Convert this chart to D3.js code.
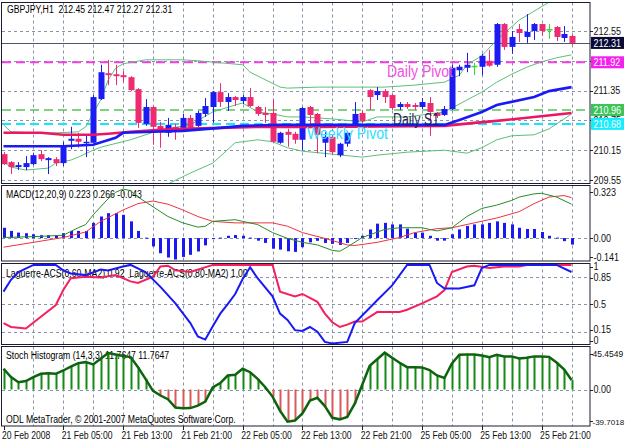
<!DOCTYPE html>
<html><head><meta charset="utf-8">
<script src="https://cdn.jsdelivr.net/npm/d3@7"></script>
<style>body{margin:0;background:#fff}svg{display:block}text{font-family:"Liberation Sans",Arial,sans-serif}</style>
</head><body><svg id="c" width="625" height="443"></svg>
<script>
// ---------- DATA ----------
const open =[210.07,209.91,209.81,209.81,209.87,210.07,209.95,209.97,209.89,210.34,210.38,210.30,210.30,211.18,211.70,211.68,211.66,211.62,211.38,210.68,211.02,210.64,210.50,210.62,210.56,210.80,210.64,210.88,211.02,211.32,211.12,211.22,211.14,211.22,211.02,210.90,210.90,210.30,210.52,210.48,210.36,211.02,210.88,210.30,210.42,210.05,210.28,210.62,210.90,211.36,211.26,211.34,211.26,211.02,211.08,211.06,211.02,211.10,210.90,210.86,210.98,211.76,211.81,211.85,211.83,211.95,211.87,212.69,212.23,212.59,212.43,212.55,212.69,212.59,212.63,212.41,212.45];
const high =[210.11,209.93,209.91,210.03,210.09,210.15,210.01,210.01,210.32,210.62,210.50,210.46,211.26,211.87,211.97,211.87,211.74,211.64,211.40,211.18,211.04,210.72,210.80,210.68,210.88,210.86,210.94,211.20,211.34,211.50,211.30,211.24,211.26,211.40,211.04,211.02,211.18,210.52,210.58,210.52,211.02,211.04,210.90,210.52,210.46,210.30,210.52,211.12,210.96,211.38,211.42,211.38,211.28,211.12,211.12,211.10,211.20,211.22,210.92,211.04,211.87,211.87,212.11,211.91,212.09,212.17,212.71,212.71,212.55,212.69,212.89,212.71,212.69,212.69,212.65,212.65,212.47];
const low  =[209.85,209.67,209.75,209.75,209.85,209.93,209.67,209.83,209.83,210.17,210.20,210.01,210.30,211.16,211.46,211.46,211.52,211.34,210.60,210.64,210.26,210.20,210.42,210.36,210.52,210.56,210.62,210.82,210.70,211.02,210.94,211.04,211.08,211.02,210.84,210.70,210.30,210.28,210.22,210.28,210.15,210.62,210.09,210.01,210.07,210.01,210.22,210.60,210.70,210.96,211.16,211.10,210.96,210.96,210.98,210.96,210.98,210.44,210.80,210.84,210.96,211.64,211.72,211.66,211.66,211.83,211.83,212.17,212.09,212.33,212.31,212.37,212.45,212.39,212.35,212.33,212.27];
const close=[209.87,209.81,209.85,209.89,210.05,209.97,209.99,209.89,210.22,210.38,210.32,210.32,211.22,211.72,211.66,211.64,211.62,211.36,210.70,211.02,210.62,210.54,210.66,210.52,210.80,210.60,210.90,211.04,211.32,211.12,211.22,211.16,211.22,211.04,210.88,210.86,210.32,210.50,210.46,210.36,211.00,210.86,210.46,210.42,210.11,210.28,210.50,210.88,210.74,211.22,211.34,211.22,211.00,211.08,211.02,211.02,211.12,210.92,210.84,210.98,211.81,211.83,211.87,211.85,212.05,211.85,212.69,212.23,212.43,212.51,212.53,212.69,212.55,212.59,212.43,212.49,212.31];

const xLabels=["20 Feb 2008","21 Feb 05:00","21 Feb 13:00","21 Feb 21:00","22 Feb 05:00","22 Feb 13:00","22 Feb 21:00","25 Feb 05:00","25 Feb 13:00","25 Feb 21:00"];
const xLabelIdx=[0,8,16,24,32,40,48,56,64,72];
const priceTicks=[212.55,211.95,211.35,210.75,210.15,209.55];
const priceTickLabels=["212.55","","211.35","210.75","210.15","209.55"];
const lastPrice=212.31;
const levelNames=["Daily Pivot","Daily S1","Weekly Pivot"];
const levelValues=[211.92,210.96,210.68];

const maBlueIdx=[0,8,12,15,16,20,24,29,32,37,42,59,61,64,66,71,73,76];
const maBlueVal=[210.23,210.23,210.26,210.40,210.50,210.52,210.54,210.60,210.64,210.66,210.66,210.66,210.76,210.92,211.06,211.22,211.34,211.42];
const maPinkIdx=[0,5,8,12,14,17,21,24,29,34,42,59,63,66,71,76];
const maPinkVal=[210.50,210.50,210.46,210.46,210.48,210.52,210.56,210.58,210.60,210.62,210.62,210.64,210.70,210.74,210.82,210.90];
const bbUpIdx=[0,1,4,7,10,11,12,13,14,15,16,19,24,26,32,33,37,38,42,51,55,59,61,62,64,66,69,73,76];
const bbUpVal=[210.66,210.52,210.50,210.50,210.52,210.62,210.90,211.16,211.56,211.80,211.89,211.97,211.97,211.95,211.87,211.72,211.42,211.40,211.42,211.42,211.46,211.52,211.66,211.87,212.05,212.37,212.77,213.13,213.42];
const bbMidIdx=[0,1,3,6,7,9,10,12,13,17,21,25,28,31,32,34,36,38,40,44,48,50,54,59,60,62,64,66,68,70,72,74,76];
const bbMidVal=[209.91,209.81,209.75,209.79,209.89,209.95,210.01,210.15,210.21,210.36,210.56,210.66,210.92,211.06,211.10,210.92,210.88,210.82,210.82,210.78,210.72,210.82,210.82,210.92,211.00,211.16,211.32,211.52,211.68,211.82,211.93,212.01,212.07];
const bbLowIdx=[0,7,12,14,17,20,22,25,28,31,32,34,36,38,40,44,48,50,54,59,62,64,66,68,71,73,74,76];
const bbLowVal=[209.17,209.29,209.41,208.85,208.79,209.05,209.47,209.69,209.89,210.30,210.32,210.36,210.32,210.20,210.13,210.07,210.01,210.05,210.11,210.15,210.09,210.20,210.36,210.44,210.46,210.58,210.68,210.88];

const macdHist=[0.068,0.047,0.036,0.032,0.025,0.019,0.019,0.019,0.032,0.047,
 0.047,0.047,0.100,0.142,0.164,0.164,0.153,0.110,0.047,0.003,
 -0.055,-0.100,-0.128,-0.141,-0.124,-0.110,-0.088,-0.048,-0.006,0.003,
 0.015,0.020,0.015,0.003,-0.017,-0.032,-0.070,-0.076,-0.087,-0.091,
 -0.060,-0.028,-0.018,-0.032,-0.038,-0.045,-0.032,-0.005,0.015,0.057,
 0.095,0.100,0.090,0.090,0.062,0.036,0.036,0.015,-0.017,-0.017,
 0.025,0.057,0.080,0.090,0.090,0.100,0.110,0.100,0.090,0.068,
 0.060,0.060,0.040,0.015,0.003,-0.020,-0.043];
const macdMainIdx=[0,5,8,10,11,12,14,15,16,17,18,20,22,24,26,27,28,31,32,34,36,38,40,42,44,45,46,48,51,53,56,57,58,60,62,64,66,68,69,71,72,74,76];
const macdMainVal=[0.004,0.011,0.019,0.068,0.089,0.153,0.259,0.301,0.323,0.312,0.270,0.206,0.142,0.100,0.072,0.078,0.110,0.121,0.110,0.089,0.036,-0.002,-0.028,-0.045,-0.081,-0.087,-0.059,0.004,0.057,0.068,0.068,0.057,0.047,0.068,0.142,0.195,0.217,0.248,0.270,0.291,0.295,0.270,0.223];
const macdSigIdx=[0,8,11,13,16,18,20,22,24,26,28,31,36,38,40,43,46,47,50,53,55,58,60,63,66,69,71,73,75,76];
const macdSigVal=[-0.060,0.004,0.040,0.110,0.185,0.227,0.244,0.223,0.185,0.142,0.110,0.100,0.100,0.078,0.036,-0.002,-0.045,-0.049,-0.028,0.004,0.036,0.062,0.068,0.100,0.132,0.174,0.227,0.270,0.280,0.266];

const lagBlueIdx=[0,1,2,4,7,8,9,11,13,14,16,17,19,21,23,25,26,27,28,29,30,31,32,33,34,36,37,38,39,40,41,42,43,44,46,47,50,52,54,55,57,58,59,61,63,64,65,68,70,74,76];
const lagBlueVal=[0.66,0.81,0.91,1.0,1.0,0.93,0.89,0.87,0.94,0.93,0.98,1.0,0.91,0.72,0.51,0.26,0.09,0.05,0.22,0.38,0.50,0.63,0.82,0.97,0.83,0.60,0.38,0.30,0.17,0.16,0.21,0.15,0.02,0.0,0.02,0.26,0.55,0.74,1.0,1.0,1.0,0.77,0.70,0.70,0.74,0.96,1.0,1.0,1.0,1.0,0.91];
const lagRedIdx=[0,1,3,5,7,8,9,11,13,15,17,18,20,21,22,23,25,28,36,37,39,40,42,43,44,45,46,47,48,50,53,54,56,58,59,60,62,63,65,67,69,70,76];
const lagRedVal=[0.26,0.21,0.19,0.34,0.49,0.68,0.83,0.85,0.84,0.87,0.79,0.77,0.85,0.98,0.99,0.93,0.91,1.0,1.0,0.66,0.60,0.63,0.53,0.38,0.27,0.21,0.24,0.28,0.28,0.40,0.40,0.43,0.51,0.60,0.68,0.91,0.98,0.99,0.96,0.98,0.98,1.0,1.0];
const lagTicks=[1,0.85,0.5,0.15,0];

const stoch=[25.6,15.3,9.0,10.4,15.3,19.4,20.2,19.4,23.5,28.3,
 32.6,33.8,31.0,37.9,45.0,43.3,41.4,40.0,27.6,13.2,
 -1.6,-7.4,-12.0,-22.3,-23.1,-22.9,-19.8,-14.8,2.7,8.0,
 17.3,18.2,25.6,21.4,13.2,3.2,-8.7,-26.2,-39.7018,-38.2,
 -29.4,-13.7,-10.2,-20.4,-34.9,-36.8,-33.8,-17.4,5.8,29.4,
 37.4,45.4549,39.2,33.1,27.6,27.6,27.3,24.0,17.4,14.2,
 32.3,42.9,43.3,43.3,42.1,40.0,42.8,40.9,40.9,38.4,
 39.2,40.9,40.9,40.3,33.4,24.9,11.7647];

// ---------- LAYOUT ----------
const svg=d3.select("#c");
svg.append("rect").attr("width",625).attr("height",443).attr("fill","#ffffff");
const XL=2, XR=590;
const P={main:[2.5,183.5],macd:[185.5,261],lag:[263.5,344.5],sto:[346.5,426]};
const x=d3.scaleLinear().domain([0,76]).range([3.5,571.5]);
const yMain=d3.scaleLinear().domain([209.55,212.55]).range([180,31]);
const yMacd=d3.scaleLinear().domain([-0.141,0.323]).range([259.5,189]);
const yLag=d3.scaleLinear().domain([0,1]).range([343.5,264.9]);
const ySto=d3.scaleLinear().domain([-39.7018,45.4549]).range([421.7,352.7]);

const defs=svg.append("defs");
Object.entries(P).forEach(([k,[a,b]])=>{
  defs.append("clipPath").attr("id","cp-"+k).append("rect").attr("x",XL).attr("y",a).attr("width",XR-XL).attr("height",b-a);
});
const G={};
Object.keys(P).forEach(k=>{G[k]=svg.append("g").attr("clip-path",`url(#cp-${k})`);});

function sq(sel,f){sel.each(function(){const L=this.getComputedTextLength();d3.select(this).attr("textLength",L*f).attr("lengthAdjust","spacingAndGlyphs");});return sel;}
const gridCol="#8795a8";
const crisp=v=>Math.round(v)+0.5;

Object.entries(P).forEach(([k,[a,b]])=>{
  d3.range(4,77,4).forEach(i=>{
    G[k].append("line").attr("x1",crisp(x(i))).attr("x2",crisp(x(i))).attr("y1",a).attr("y2",b)
      .attr("stroke",gridCol).attr("stroke-dasharray","3,3").attr("stroke-width",1);
  });
});
priceTicks.forEach(v=>{
  G.main.append("line").attr("x1",XL).attr("x2",XR).attr("y1",crisp(yMain(v))).attr("y2",crisp(yMain(v)))
    .attr("stroke",gridCol).attr("stroke-dasharray","3,3");
});

// ----- MAIN PANEL -----
sq(G.main.append("text").attr("x",7).attr("y",13).attr("font-size",10).attr("fill","#000").style("white-space","pre")
  .text("GBPJPY,H1  212.45 212.47 212.27 212.31"),0.87);

G.main.append("line").attr("x1",XL).attr("x2",XR).attr("y1",crisp(yMain(lastPrice))).attr("y2",crisp(yMain(lastPrice)))
  .attr("stroke","#4a5670").attr("stroke-width",1);

const levelCols=["#f03ee0","#55c455","#18e6ff"];
levelValues.forEach((v,k)=>{
  G.main.append("line").attr("x1",XL).attr("x2",XR).attr("y1",yMain(v)).attr("y2",yMain(v))
    .attr("stroke",levelCols[k]).attr("stroke-width",k==1?1.5:2).attr("stroke-dasharray","9,5");
});

const pts=(I,V)=>I.map((d,j)=>[d,V[j]]);
const lineMain=d3.line().x(d=>x(d[0])).y(d=>yMain(d[1]));
[[bbUpIdx,bbUpVal],[bbMidIdx,bbMidVal],[bbLowIdx,bbLowVal]].forEach(([I,V])=>{
  G.main.append("path").attr("d",lineMain(pts(I,V))).attr("fill","none").attr("stroke","#5cbf78").attr("stroke-width",1);
});

const bull="#1c1cf2", bear="#ee2a70", doji="#33dd33";
const cg=G.main.append("g");
open.forEach((o,i)=>{
  const c=close[i], col=c>o?bull:(c<o?bear:doji);
  const cx=Math.round(x(i))+0.5;
  cg.append("line").attr("x1",cx).attr("x2",cx).attr("y1",yMain(high[i])).attr("y2",yMain(low[i])).attr("stroke",col).attr("stroke-width",1);
  const top=yMain(Math.max(o,c)), bot=yMain(Math.min(o,c));
  cg.append("rect").attr("x",cx-3).attr("y",top).attr("width",6).attr("height",Math.max(1.5,bot-top)).attr("fill",col);
});

G.main.append("path").attr("d",lineMain(pts(maPinkIdx,maPinkVal))).attr("fill","none").attr("stroke","#ec1664").attr("stroke-width",2.6);
G.main.append("path").attr("d",lineMain(pts(maBlueIdx,maBlueVal))).attr("fill","none").attr("stroke","#1a1af5").attr("stroke-width",2.6);

const labX=[387,393,307], labW=[66,46,81], labCol=["#f050e0","#1e1e52","#30dcff"];
levelNames.forEach((n,k)=>{
  G.main.append("text").attr("x",labX[k]).attr("y",yMain(levelValues[k])+15).attr("font-size",16)
    .attr("fill",labCol[k]).attr("textLength",labW[k]).attr("lengthAdjust","spacingAndGlyphs").text(n);
});

// ----- MACD -----
G.macd.append("line").attr("x1",XL).attr("x2",XR).attr("y1",crisp(yMacd(0))).attr("y2",crisp(yMacd(0)))
  .attr("stroke",gridCol).attr("stroke-dasharray","3,3");
sq(G.macd.append("text").attr("x",6).attr("y",198).attr("font-size",10).attr("fill","#000").text("MACD(12,20,9) 0.223 0.266 -0.043"),0.87);
macdHist.forEach((v,i)=>{
  const y0=yMacd(0), y1=yMacd(v);
  G.macd.append("rect").attr("x",Math.round(x(i))-1).attr("y",Math.min(y0,y1)).attr("width",3).attr("height",Math.max(1,Math.abs(y1-y0))).attr("fill","#1a1af0");
});
const lineMacd=d3.line().x(d=>x(d[0])).y(d=>yMacd(d[1]));
G.macd.append("path").attr("d",lineMacd(pts(macdSigIdx,macdSigVal))).attr("fill","none").attr("stroke","#ee3340").attr("stroke-width",1);
G.macd.append("path").attr("d",lineMacd(pts(macdMainIdx,macdMainVal))).attr("fill","none").attr("stroke","#2a8a2a").attr("stroke-width",1);

// ----- LAGUERRE -----
[0.85,0.5,0.15].forEach(v=>{
  G.lag.append("line").attr("x1",XL).attr("x2",XR).attr("y1",crisp(yLag(v))).attr("y2",crisp(yLag(v)))
    .attr("stroke",gridCol).attr("stroke-dasharray","3,3");
});
sq(G.lag.append("text").attr("x",6).attr("y",277).attr("font-size",10).attr("fill","#000").style("white-space","pre")
  .text("Laguerre-ACS(0.60-MA2) 0.92  Laguerre-ACS(0.80-MA2) 1.00"),0.87);
const lineLag=d3.line().x(d=>x(d[0])).y(d=>yLag(d[1]));
G.lag.append("path").attr("d",lineLag(pts(lagRedIdx,lagRedVal))).attr("fill","none").attr("stroke","#f5205e").attr("stroke-width",2);
G.lag.append("path").attr("d",lineLag(pts(lagBlueIdx,lagBlueVal))).attr("fill","none").attr("stroke","#1a1af5").attr("stroke-width",2);

// ----- STOCH -----
G.sto.append("line").attr("x1",XL).attr("x2",XR).attr("y1",crisp(ySto(0))).attr("y2",crisp(ySto(0)))
  .attr("stroke",gridCol).attr("stroke-dasharray","3,3");
sq(G.sto.append("text").attr("x",6).attr("y",359).attr("font-size",10).attr("fill","#000").text("Stoch Histogram (14,3,3) 11.7647 11.7647"),0.87);
sq(G.sto.append("text").attr("x",6).attr("y",423).attr("font-size",10).attr("fill","#000").text("ODL MetaTrader, © 2001-2007 MetaQuotes Software Corp."),0.87);
stoch.forEach((v,i)=>{
  G.sto.append("line").attr("x1",Math.round(x(i))+0.5).attr("x2",Math.round(x(i))+0.5).attr("y1",ySto(0)).attr("y2",ySto(v))
    .attr("stroke",v>=0?"#168a16":"#d85a5a").attr("stroke-width",2);
});
G.sto.append("path").attr("d",d3.line().x((d,i)=>x(i)).y(d=>ySto(d))(stoch)).attr("fill","none").attr("stroke","#0e640e").attr("stroke-width",2.5);

// ----- FRAMES -----
Object.values(P).forEach(([a,b])=>{
  svg.append("rect").attr("x",XL-0.5).attr("y",a).attr("width",XR-XL+0.5).attr("height",b-a)
    .attr("fill","none").attr("stroke","#1c1c30").attr("stroke-width",1);
});

// ----- RIGHT AXIS -----
const ax=svg.append("g").attr("font-size",10).attr("fill","#111");
function rlabel(yv,t,fs){
  ax.append("line").attr("x1",XR).attr("x2",XR+3).attr("y1",crisp(yv)).attr("y2",crisp(yv)).attr("stroke","#222");
  if(!t) return;
  const tx=ax.append("text").attr("x",fs?XR+2.5:XR+3.5).attr("y",yv+3.5).text(t);
  if(fs) tx.attr("font-size",fs); else sq(tx,0.9);
}
priceTicks.forEach((v,k)=>rlabel(yMain(v),priceTickLabels[k]));
const boxVals=[lastPrice,levelValues[0],levelValues[1],levelValues[2]];
const boxBg=["#0a0a38","#f51ff0","#3cc35a","#12eeff"];
boxVals.forEach((v,k)=>{
  const yv=yMain(v);
  ax.append("rect").attr("x",XR+1).attr("y",yv-6).attr("width",33).attr("height",12).attr("fill",boxBg[k]);
  sq(ax.append("text").attr("x",XR+3.5).attr("y",yv+3.8).attr("fill","#fff").text(v.toFixed(2)),0.9);
});
rlabel(192,"0.323"); rlabel(yMacd(0),"0.00"); rlabel(257,"-0.141");
const lagLabY=[266.5,277.5,yLag(0.5),yLag(0.15)-2,340.5];
lagTicks.forEach((v,k)=>rlabel(lagLabY[k],String(v)));
rlabel(353.5,"45.4549",8.5); rlabel(ySto(0),"0.00"); rlabel(421,"-39.7018",8);

// ----- X AXIS -----
xLabels.forEach((t,k)=>{
  const xi=x(xLabelIdx[k]);
  svg.append("line").attr("x1",crisp(xi)).attr("x2",crisp(xi)).attr("y1",426).attr("y2",430).attr("stroke","#222");
  sq(svg.append("text").attr("x",xi-1.5).attr("y",439).attr("font-size",10).attr("fill","#111").text(t),0.86);
});
</script>
</body></html>
